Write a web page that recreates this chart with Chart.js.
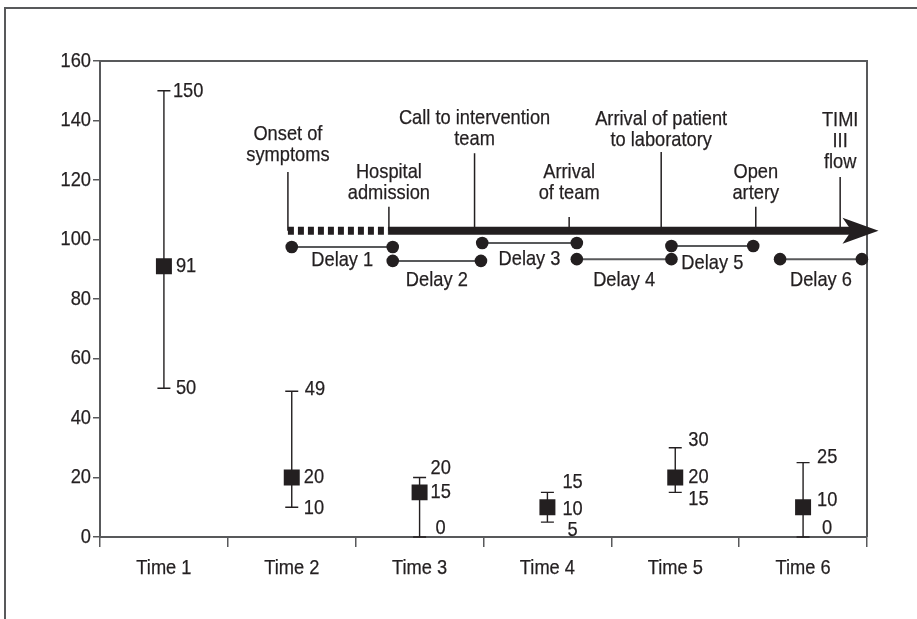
<!DOCTYPE html>
<html>
<head>
<meta charset="utf-8">
<script src="https://cdn.jsdelivr.net/npm/chart.js@4.4.0/dist/chart.umd.min.js"></script>
<style>
  html, body { margin: 0; padding: 0; background: #fff; }
  #wrap { width: 917px; height: 619px; }
</style>
</head>
<body>
<div id="wrap"><canvas id="chart-delay"></canvas></div>
<script>
const categories = ['Time 1', 'Time 2', 'Time 3', 'Time 4', 'Time 5', 'Time 6'];
const medians = [91, 20, 15, 10, 20, 10];
const lows = [50, 10, 0, 5, 15, 0];
const highs = [150, 49, 20, 15, 30, 25];
const yTicks = [0, 20, 40, 60, 80, 100, 120, 140, 160];

// timeline events, x in time units (0..6 across the x axis)
const eventNames = [['Onset of', 'symptoms'], ['Hospital', 'admission'], ['Call to intervention', 'team'],
    ['Arrival', 'of team'], ['Arrival of patient', 'to laboratory'], ['Open', 'artery'], ['TIMI', 'III', 'flow']];
const eventAt = [1.47, 2.26, 2.93, 3.67, 4.39, 5.13, 5.79];
const eventLineTop = [122.7, 111, 129, 107.6, 129.4, 111, 121];
const eventTextY = [128.4, 115.6, 133.8, 115.6, 133.4, 115.6, 126];
const timelineLevel = 102.9;
const timelineEnd = 6.09;

const delayNames = ['Delay 1', 'Delay 2', 'Delay 3', 'Delay 4', 'Delay 5', 'Delay 6'];
const delayStart = [1.50, 2.29, 2.99, 3.73, 4.47, 5.32];
const delayEnd = [2.29, 2.98, 3.73, 4.47, 5.11, 5.96];
const delayLevel = [97.5, 92.8, 98.8, 93.4, 97.8, 93.4];
const delayTextY = [93.1, 86.4, 93.4, 86.4, 92.1, 86.4];

// pixel nudges for the value labels: [high, median, low] as [dx, dy]
const labelNudge = [
    [[9, 0], [12, 0], [12, 0]],
    [[13, -2], [12, 0], [12, 1]],
    [[11, -9], [11, 0], [16, -9]],
    [[15, -10], [15, 2], [20, 8]],
    [[13, -8], [13, 0], [13, 7]],
    [[14, -5], [14, -7], [19, -9]]
];

const FONT = "21px 'Liberation Sans', Arial, sans-serif";
const SQUEEZE = 0.87;
const INK = '#231f20';
const AXIS = '#58595b';

// condensed text: the reference uses a narrow face, so squeeze a regular one
function say(ctx, text, x, y, align) {
    ctx.save();
    ctx.translate(x, y);
    ctx.scale(SQUEEZE, 1);
    ctx.textAlign = align;
    ctx.textBaseline = 'middle';
    ctx.lineWidth = 0.25;
    ctx.strokeStyle = INK;
    ctx.fillText(text, 0, 0);
    ctx.strokeText(text, 0, 0);
    ctx.restore();
}

const framePlugin = {
    id: 'frame',
    beforeDraw(chart) {
        const ctx = chart.ctx;
        ctx.save();
        ctx.strokeStyle = AXIS;
        ctx.lineWidth = 2;
        ctx.beginPath();
        ctx.moveTo(5, chart.height);
        ctx.lineTo(5, 8);
        ctx.lineTo(chart.width, 8);
        ctx.stroke();
        ctx.restore();
    },
    beforeDatasetsDraw(chart) {
        const ctx = chart.ctx;
        const a = chart.chartArea;
        ctx.save();
        ctx.strokeStyle = AXIS;
        ctx.lineWidth = 2;
        ctx.beginPath();
        ctx.moveTo(a.left, a.top);
        ctx.lineTo(a.right, a.top);
        ctx.lineTo(a.right, a.bottom);
        ctx.stroke();

        // axis labels from the scales' own ticks
        const x = chart.scales.x, y = chart.scales.y;
        ctx.fillStyle = INK;
        ctx.font = FONT;
        y.ticks.forEach(t => say(ctx, String(t.value), a.left - 9, y.getPixelForValue(t.value), 'right'));
        categories.forEach((c, i) => say(ctx, c, x.getPixelForValue(i), a.bottom + 31, 'center'));

        // error bars
        ctx.strokeStyle = INK;
        ctx.lineWidth = 1.4;
        medians.forEach((m, i) => {
            const px = x.getPixelForValue(i);
            const top = y.getPixelForValue(highs[i]);
            const bot = y.getPixelForValue(lows[i]);
            ctx.beginPath();
            ctx.moveTo(px, top); ctx.lineTo(px, bot);
            ctx.moveTo(px - 6.5, top); ctx.lineTo(px + 6.5, top);
            ctx.moveTo(px - 6.5, bot); ctx.lineTo(px + 6.5, bot);
            ctx.stroke();
        });
        ctx.restore();
    },
    afterDatasetsDraw(chart) {
        const ctx = chart.ctx;
        const x = chart.scales.x, y = chart.scales.y, xt = chart.scales.xt;
        ctx.save();
        ctx.fillStyle = INK;
        ctx.strokeStyle = INK;
        ctx.font = FONT;

        // value labels
        medians.forEach((m, i) => {
            const px = x.getPixelForValue(i);
            [highs[i], m, lows[i]].forEach((v, k) => {
                const n = labelNudge[i][k];
                say(ctx, String(v), px + n[0], y.getPixelForValue(v) + n[1], 'left');
            });
        });

        // timeline
        const ty = y.getPixelForValue(timelineLevel);
        const x0 = xt.getPixelForValue(eventAt[0]);
        const x1 = xt.getPixelForValue(eventAt[1]);
        const tip = xt.getPixelForValue(timelineEnd);
        ctx.lineWidth = 8;
        ctx.lineCap = 'butt';
        ctx.setLineDash([6, 4]);
        ctx.beginPath();
        ctx.moveTo(x0, ty); ctx.lineTo(x1, ty);
        ctx.stroke();
        ctx.setLineDash([]);
        ctx.beginPath();
        ctx.moveTo(x1, ty); ctx.lineTo(tip - 24, ty);
        ctx.stroke();
        ctx.beginPath();
        ctx.moveTo(tip - 36, ty - 13);
        ctx.lineTo(tip, ty);
        ctx.lineTo(tip - 36, ty + 13);
        ctx.lineTo(tip - 27, ty);
        ctx.closePath();
        ctx.fill();

        // event markers and names
        ctx.lineWidth = 1.5;
        eventAt.forEach((e, i) => {
            const px = xt.getPixelForValue(e);
            ctx.beginPath();
            ctx.moveTo(px, y.getPixelForValue(eventLineTop[i]));
            ctx.lineTo(px, ty);
            ctx.stroke();
            const lines = eventNames[i];
            const last = y.getPixelForValue(eventTextY[i]);
            lines.forEach((t, k) => say(ctx, t, px, last - (lines.length - 1 - k) * 21, 'center'));
        });

        // delay names
        delayNames.forEach((d, i) => {
            const px = xt.getPixelForValue((delayStart[i] + delayEnd[i]) / 2);
            say(ctx, d, px, y.getPixelForValue(delayTextY[i]), 'center');
        });
        ctx.restore();
    }
};

const delaySets = delayNames.map((d, i) => ({
    label: d,
    data: [{ x: delayStart[i], y: delayLevel[i] }, { x: delayEnd[i], y: delayLevel[i] }],
    xAxisID: 'xt',
    yAxisID: 'y',
    borderColor: AXIS,
    borderWidth: 2,
    pointRadius: 6.3,
    pointBackgroundColor: INK,
    pointBorderWidth: 0,
    clip: false
}));

new Chart(document.getElementById('chart-delay'), {
    type: 'line',
    data: {
        labels: categories,
        datasets: [
            {
                label: 'Median',
                data: medians,
                showLine: false,
                pointStyle: 'rect',
                pointRadius: 11.3,
                pointBackgroundColor: INK,
                pointBorderWidth: 0,
                xAxisID: 'x',
                yAxisID: 'y'
            },
            ...delaySets
        ]
    },
    options: {
        responsive: true,
        maintainAspectRatio: false,
        animation: false,
        events: [],
        layout: { padding: { left: 40, top: 61, right: 50, bottom: 32 } },
        plugins: { legend: { display: false }, tooltip: { enabled: false } },
        scales: {
            x: {
                type: 'category',
                offset: true,
                grid: { offset: true, drawOnChartArea: false, tickLength: 10, color: AXIS, lineWidth: 1.5 },
                border: { color: AXIS, width: 2 },
                ticks: { display: false },
                afterFit(s) { s.height = 50; }
            },
            xt: { type: 'linear', display: false, min: 0, max: 6 },
            y: {
                min: 0,
                max: 160,
                grid: { drawOnChartArea: false, tickLength: 7, color: AXIS, lineWidth: 1.5 },
                border: { color: AXIS, width: 2 },
                ticks: { display: false },
                afterBuildTicks(s) { s.ticks = yTicks.map(v => ({ value: v })); },
                afterFit(s) { s.width = 60; }
            }
        }
    },
    plugins: [framePlugin]
});
</script>
</body>
</html>
